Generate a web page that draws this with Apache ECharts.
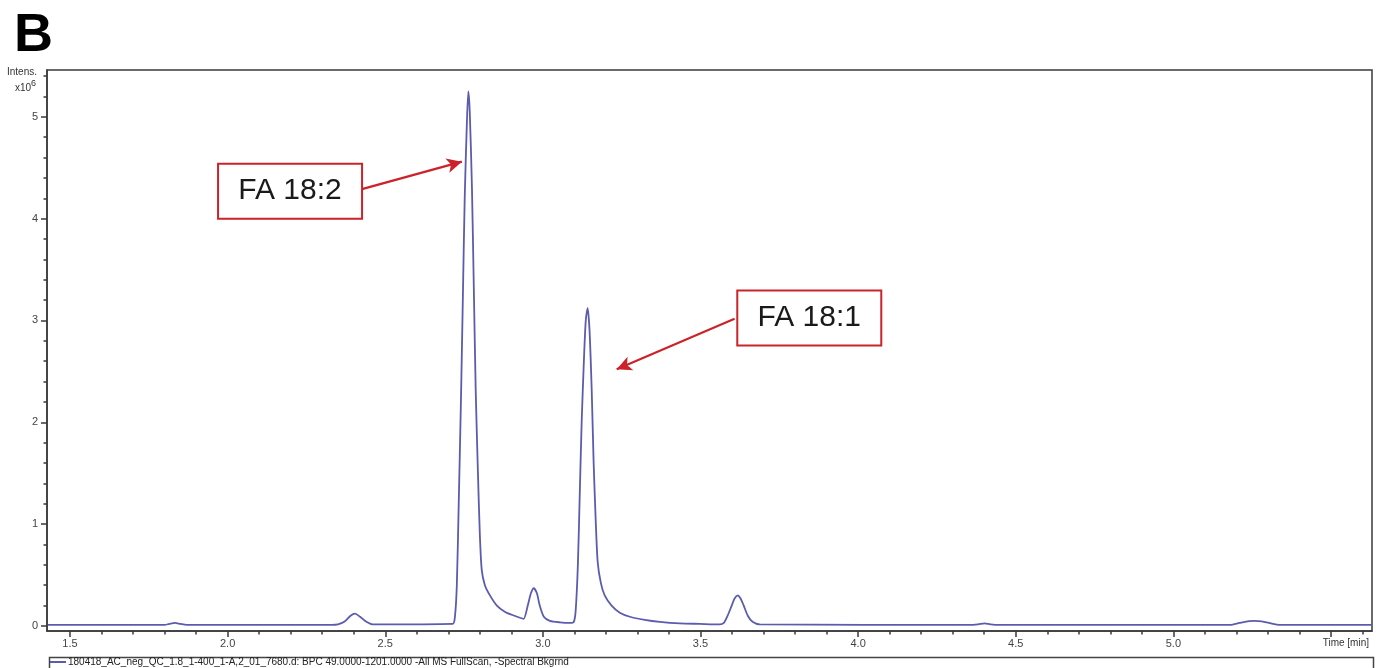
<!DOCTYPE html>
<html>
<head>
<meta charset="utf-8">
<script src="https://cdn.jsdelivr.net/npm/echarts@6/dist/echarts.min.js"></script>
<style>
  html, body { margin: 0; padding: 0; background: #fff; }
  #main { width: 1377px; height: 668px; }
</style>
</head>
<body>
<div id="main"></div>
<script>
// Chromatogram: time [min] and intensity [x10^6]
const times = [
  1.43, 1.80, 1.815, 1.833, 1.85, 1.87,
  2.33, 2.35, 2.37, 2.39, 2.404, 2.42, 2.44, 2.46,
  2.714, 2.7207, 2.727, 2.733, 2.740, 2.746, 2.752, 2.759, 2.7635, 2.768,
  2.775, 2.781, 2.787, 2.794, 2.800, 2.806, 2.816, 2.832, 2.854, 2.879,
  2.901, 2.927, 2.939, 2.952, 2.962, 2.971, 2.981, 2.990, 3.003, 3.022,
  3.054, 3.085, 3.098, 3.104, 3.111, 3.117, 3.123, 3.130, 3.136, 3.142,
  3.148, 3.155, 3.161, 3.168, 3.174, 3.184, 3.196, 3.218, 3.244, 3.276,
  3.323, 3.371, 3.434, 3.497, 3.561, 3.574, 3.586, 3.599, 3.608, 3.618,
  3.627, 3.637, 3.650, 3.665, 3.688,
  4.35, 4.38, 4.401, 4.42, 4.45,
  5.18, 5.21, 5.24, 5.257, 5.28, 5.31, 5.335, 5.63
];
const intensity = [
  0.01, 0.01, 0.02, 0.03, 0.02, 0.01,
  0.01, 0.015, 0.04, 0.10, 0.12, 0.09, 0.04, 0.015,
  0.02, 0.08, 0.4, 1.2, 2.2, 3.2, 4.2, 4.95, 5.25, 5.05,
  4.3, 3.3, 2.3, 1.5, 0.9, 0.55, 0.40, 0.30, 0.20, 0.14,
  0.11, 0.08, 0.07, 0.2, 0.32, 0.37, 0.32, 0.2, 0.09, 0.05,
  0.035, 0.03, 0.04, 0.15, 0.6, 1.3, 2.0, 2.6, 3.0, 3.12,
  2.9, 2.3, 1.6, 1.0, 0.62, 0.42, 0.30, 0.20, 0.13, 0.09,
  0.06, 0.04, 0.025, 0.02, 0.015, 0.03, 0.1, 0.2, 0.27, 0.30,
  0.27, 0.2, 0.1, 0.04, 0.015,
  0.01, 0.015, 0.025, 0.015, 0.01,
  0.01, 0.03, 0.048, 0.05, 0.045, 0.025, 0.01, 0.01
];

// Axis ticks and labels
const xLabelValues = [1.5, 2.0, 2.5, 3.0, 3.5, 4.0, 4.5, 5.0];
const xMajorTicks = [1.5, 2.0, 2.5, 3.0, 3.5, 4.0, 4.5, 5.0, 5.5];
const xMinorTicks = [];
for (let v = 15; v <= 56; v++) if (v % 5 !== 0) xMinorTicks.push(v / 10);
const yLabelValues = [0, 1, 2, 3, 4, 5];
const yMinorTicks = [];
for (let v = 0; v <= 27; v++) if (v % 5 !== 0) yMinorTicks.push(v / 5);

// Annotations: label, box centre, arrow start, arrow end (data units)
const annotations = [
  { name: "FA 18:2", box: [2.198, 4.27], from: [2.426, 4.29], to: [2.743, 4.56] },
  { name: "FA 18:1", box: [3.845, 3.025], from: [3.608, 3.016], to: [3.234, 2.52] }
];

const seriesName =
  "180418_AC_neg_QC_1.8_1-400_1-A,2_01_7680.d: BPC 49.0000-1201.0000 -All MS FullScan, -Spectral Bkgrnd";

const lineColor = "#5b5cad";
const red = "#cc2229";
const axisColor = "#3a3a3a";
const font = "Liberation Sans, Arial, sans-serif";

const xRange = { min: 1.427, max: 5.63 };
const yRange = { min: -0.05, max: 5.46 };

const chart = echarts.init(document.getElementById("main"));

const option = {
  animation: false,
  grid: {
    left: 47, top: 70, right: 5, bottom: 37,
    show: true, borderColor: axisColor, borderWidth: 1.5, backgroundColor: "#fff"
  },
  legend: {
    left: 50, top: 655,
    itemWidth: 16, itemHeight: 2, icon: "rect",
    padding: [2, 0, 0, 0],
    textStyle: { fontFamily: font, fontSize: 10, color: "#222", padding: [0, 0, 0, -3] },
    data: [seriesName]
  },
  xAxis: [
    {
      type: "value", ...xRange, position: "bottom",
      axisLine: { show: true, onZero: false, lineStyle: { color: axisColor, width: 1.5 } },
      axisTick: { show: true, inside: false, length: 6, customValues: xMajorTicks, lineStyle: { color: axisColor, width: 1.5 } },
      axisLabel: {
        customValues: xLabelValues,
        formatter: (v) => v.toFixed(1),
        fontFamily: font, fontSize: 11, color: "#444", margin: 7
      },
      splitLine: { show: false }
    },
    {
      type: "value", ...xRange, position: "bottom",
      axisLine: { show: false, onZero: false },
      axisTick: { show: true, inside: false, length: 3.5, customValues: xMinorTicks, lineStyle: { color: axisColor, width: 1.5 } },
      axisLabel: { show: false },
      splitLine: { show: false }
    }
  ],
  yAxis: [
    {
      type: "value", ...yRange, position: "left",
      axisLine: { show: true, onZero: false, lineStyle: { color: axisColor, width: 1.5 } },
      axisTick: { show: true, inside: false, length: 6, customValues: yLabelValues, lineStyle: { color: axisColor, width: 1.5 } },
      axisLabel: {
        customValues: yLabelValues,
        fontFamily: font, fontSize: 11, color: "#444", margin: 9
      },
      splitLine: { show: false }
    },
    {
      type: "value", ...yRange, position: "left",
      axisLine: { show: false, onZero: false },
      axisTick: { show: true, inside: false, length: 3.5, customValues: yMinorTicks, lineStyle: { color: axisColor, width: 1.5 } },
      axisLabel: { show: false },
      splitLine: { show: false }
    }
  ],
  graphic: [
    { type: "text", left: 14, top: 9, style: { text: "B", font: "bold 54px " + font, fill: "#000" } },
    { type: "text", left: 7, top: 67, style: { text: "Intens.", font: "10px " + font, fill: "#333" } },
    {
      type: "text", left: 15, top: 79,
      style: {
        text: "{a|x10}{b|6}",
        rich: {
          a: { font: "10px " + font, fill: "#333", padding: [5, 0, 0, 0] },
          b: { font: "9px " + font, fill: "#333", padding: [0, 0, 4, 0] }
        }
      }
    },
    { type: "text", right: 8, top: 638, style: { text: "Time [min]", font: "10px " + font, fill: "#333" } },
    {
      type: "rect", left: 47, top: 655,
      shape: { x: 0, y: 0, width: 1324, height: 20 },
      style: { fill: "none", stroke: "#444", lineWidth: 1.5 }
    }
  ],
  series: [
    {
      name: seriesName,
      type: "line",
      xAxisIndex: 0,
      yAxisIndex: 0,
      data: times.map((t, i) => [t, intensity[i]]),
      showSymbol: false,
      smooth: 0.25,
      color: lineColor,
      lineStyle: { color: lineColor, width: 1.8 },
      z: 3,
      markLine: {
        silent: true,
        symbol: ["none", "arrow"],
        symbolSize: [11, 15],
        lineStyle: { color: red, width: 2.2, type: "solid" },
        label: { show: false },
        data: annotations.map((a) => [{ coord: a.from }, { coord: a.to }])
      },
      markPoint: {
        silent: true,
        symbol: "circle",
        symbolSize: 1,
        itemStyle: { color: "transparent" },
        label: {
          show: true,
          position: "inside",
          formatter: "{b}",
          width: 142,
          height: 53,
          lineHeight: 53,
          align: "center",
          verticalAlign: "middle",
          backgroundColor: "#fff",
          borderColor: red,
          borderWidth: 2,
          fontFamily: font, fontSize: 30, color: "#1a1a1a"
        },
        data: annotations.map((a) => ({ name: a.name, coord: a.box }))
      }
    }
  ]
};

chart.setOption(option);
window.addEventListener("resize", () => chart.resize());
</script>
</body>
</html>
